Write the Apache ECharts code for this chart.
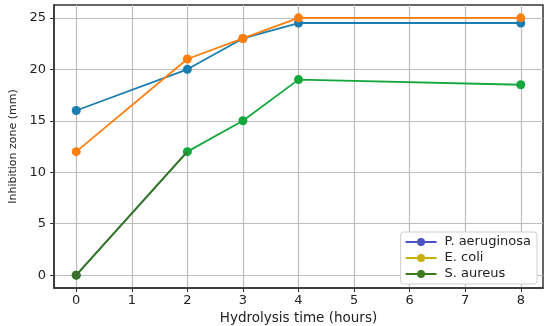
<!DOCTYPE html>
<html><head><meta charset="utf-8">
<script src="https://cdn.jsdelivr.net/npm/echarts@6/dist/echarts.min.js"></script>
<style>html,body{margin:0;padding:0;background:#fff}#c{width:550px;height:326px}</style>
</head><body><div id="c"></div>
<script>
const hours = [0, 2, 3, 4, 8];
const pAeruginosa = [16, 20, 23, 24.5, 24.5];
const eColi = [12, 21, 23, 25, 25];
const sAureus = [0, 12, 15, 19, 18.5];
const seriesNames = ['P. aeruginosa', 'E. coli', 'S. aureus'];
const xTicks = [0, 1, 2, 3, 4, 5, 6, 7, 8];
const yTicks = [0, 5, 10, 15, 20, 25];
const lineColors = ['#1a7db0', '#ff7f0e', '#14a83c'];
const legendColors = ['#4b52c4', '#c8b000', '#3d7a1e'];
const firstSegColor = '#3d7030';

const chart = echarts.init(document.getElementById('c'));
const font = 'DejaVu Sans';
function pairs(ys){ return hours.map((h,i)=>[h, ys[i]]); }
const all = [pAeruginosa, eColi, sAureus];
const series = seriesNames.map((n,i)=>({
  name: n, type: 'line', data: pairs(all[i]),
  symbol: 'circle', symbolSize: 9,
  lineStyle: {color: lineColors[i], width: 1.8},
  itemStyle: {color: lineColors[i]},
  z: 3 + (i === 1 ? 1 : 0)
}));
const seg = pairs(sAureus).slice(0, 2).map((p, k) => ({value: p, symbol: k === 0 ? 'circle' : 'none'}));
series.push({
  name: 'S. aureus (0-2 h)', type: 'line', data: seg,
  symbolSize: 9, showSymbol: true,
  lineStyle: {color: firstSegColor, width: 1.8},
  itemStyle: {color: firstSegColor}, z: 5, silent: true
});
chart.setOption({
  animation: false,
  grid: {left: 54, right: 7, top: 5, bottom: 38, show: true, borderColor: '#333', borderWidth: 1.5,
         outerBoundsMode: 'none', containLabel: false},
  xAxis: {
    type: 'value', min: -0.4, max: 8.4,
    name: 'Hydrolysis time (hours)', nameLocation: 'middle', nameGap: 19,
    nameTextStyle: {fontFamily: font, fontSize: 13.5, color: '#222'},
    axisLine: {show: true, onZero: false, lineStyle: {color: '#333', width: 1.5}},
    axisTick: {show: true, length: 4, customValues: xTicks, lineStyle: {color: '#333'}},
    axisLabel: {fontFamily: font, fontSize: 13, color: '#222', margin: 6, customValues: xTicks},
    splitLine: {show: true, lineStyle: {color: '#bdbdbd', width: 1.2}}
  },
  yAxis: {
    type: 'value', min: -1.25, max: 26.25,
    name: 'Inhibition zone (mm)', nameLocation: 'middle', nameGap: 34, nameRotate: 90,
    nameTextStyle: {fontFamily: font, fontSize: 11, color: '#222'},
    axisLine: {show: true, onZero: false, lineStyle: {color: '#333', width: 1.5}},
    axisTick: {show: true, length: 4, customValues: yTicks, lineStyle: {color: '#333'}},
    axisLabel: {fontFamily: font, fontSize: 13, color: '#222', margin: 8, customValues: yTicks},
    splitLine: {show: true, lineStyle: {color: '#bdbdbd', width: 1.2}}
  },
  legend: {
    right: 13, bottom: 42, orient: 'vertical', itemGap: 2,
    backgroundColor: '#fff', borderColor: '#cfcfcf', borderWidth: 1, borderRadius: 3,
    padding: [3, 6, 3, 4], itemWidth: 31, itemHeight: 10,
    textStyle: {fontFamily: font, fontSize: 13, color: '#222', lineHeight: 14, padding: [0, 0, 0, 3]},
    data: seriesNames.map((n,i)=>({name: n, itemStyle: {color: legendColors[i]}, lineStyle: {color: legendColors[i], width: 2}}))
  },
  series: series
});
</script></body></html>
